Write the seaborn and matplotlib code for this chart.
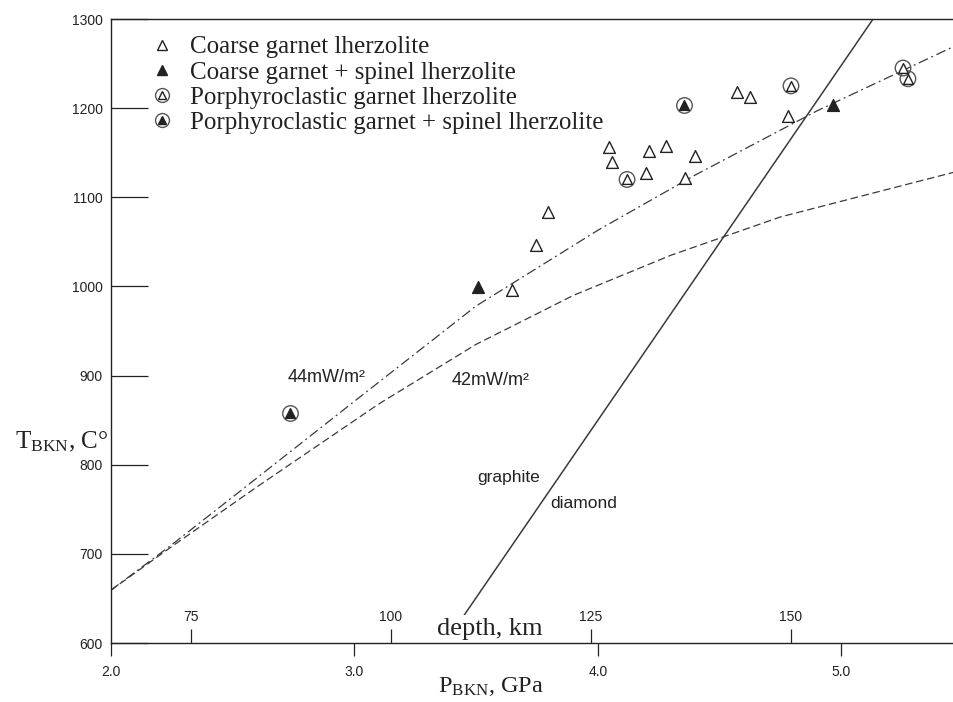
import numpy as np
import pandas as pd
import matplotlib
matplotlib.use("Agg")
import matplotlib.pyplot as plt
import seaborn as sns
from matplotlib.lines import Line2D
from matplotlib.legend_handler import HandlerTuple

# ---------------- data ----------------
cg_P = [4.046, 4.059, 4.210, 4.280, 4.399, 4.198, 4.358, 3.796, 3.746, 3.648, 4.571, 4.625, 4.781]
cg_T = [1156, 1140, 1152, 1158, 1146, 1127, 1122, 1083, 1046, 996, 1218, 1213, 1191]
cgs_P = [3.508, 4.965]
cgs_T = [999, 1203]
pg_P = [4.120, 4.793, 5.253, 5.273]
pg_T = [1120, 1225, 1245, 1233]
pgs_P = [2.736, 4.354]
pgs_T = [858, 1204]

geo44_P = [2.0, 2.25, 2.6, 3.0, 3.5, 4.0, 4.4, 4.9, 5.46]
geo44_T = [659, 710, 785, 871, 978, 1063, 1125, 1197, 1269]
geo42_P = [2.0, 2.25, 2.6, 3.1, 3.5, 3.9, 4.3, 4.75, 5.46]
geo42_T = [659, 708, 775, 868, 935, 990, 1035, 1078, 1128]
gd_P = [3.373, 5.13]
gd_T = [600, 1300]

x_ticks = [2.0, 3.0, 4.0, 5.0]
x_tick_labels = ["2.0", "3.0", "4.0", "5.0"]
y_ticks = [600, 700, 800, 900, 1000, 1100, 1200, 1300]
depth_ticks = [75, 100, 125, 150]
depth_tick_P = [2.332, 3.149, 3.971, 4.792]

labels = ["Coarse garnet lherzolite",
          "Coarse garnet + spinel lherzolite",
          "Porphyroclastic garnet lherzolite",
          "Porphyroclastic garnet + spinel lherzolite"]

# ---------------- style ----------------
sns.set_theme(style="white")
plt.rcParams["font.family"] = ["Liberation Sans", "DejaVu Sans"]
plt.rcParams["mathtext.fontset"] = "custom"
plt.rcParams["mathtext.rm"] = "Liberation Serif"
plt.rcParams["mathtext.it"] = "Liberation Serif:italic"
SERIF = ["Liberation Serif", "DejaVu Serif"]
INK = "#222222"
LINE = "#3a3a3a"

fig = plt.figure(figsize=(9.54, 7.02), dpi=100)
ax = fig.add_axes([0.1159, 0.0840, 0.8841, 0.8889])
ax.set_xlim(2.0, 5.4622)
ax.set_ylim(600, 1300)

# geotherms and graphite-diamond line
d44 = pd.DataFrame({"P": geo44_P, "T": geo44_T})
d42 = pd.DataFrame({"P": geo42_P, "T": geo42_T})
dgd = pd.DataFrame({"P": gd_P, "T": gd_T})
sns.lineplot(data=d44, x="P", y="T", sort=False, ax=ax, color=LINE, lw=0.9, zorder=2)
ax.lines[-1].set_dashes([8, 3, 1.5, 3])
sns.lineplot(data=d42, x="P", y="T", sort=False, ax=ax, color=LINE, lw=0.9, zorder=2)
ax.lines[-1].set_dashes([6, 3])
sns.lineplot(data=dgd, x="P", y="T", sort=False, ax=ax, color=LINE, lw=1.1, zorder=2)

# markers
sns.scatterplot(x=cg_P, y=cg_T, marker="^", s=72, color="white",
                edgecolor=INK, linewidth=1.0, ax=ax, zorder=4)
sns.scatterplot(x=cgs_P, y=cgs_T, marker="^", s=72, color=INK,
                edgecolor=INK, linewidth=1.0, ax=ax, zorder=4)
sns.scatterplot(x=pg_P, y=pg_T, marker="o", s=125, facecolors="none",
                edgecolor="#555555", linewidth=1.0, ax=ax, zorder=4)
sns.scatterplot(x=pg_P, y=pg_T, marker="^", s=50, color="white",
                edgecolor=INK, linewidth=1.0, ax=ax, zorder=5)
sns.scatterplot(x=pgs_P, y=pgs_T, marker="o", s=125, color="white",
                edgecolor="#555555", linewidth=1.0, ax=ax, zorder=4)
sns.scatterplot(x=pgs_P, y=pgs_T, marker="^", s=50, color=INK,
                edgecolor=INK, linewidth=1.0, ax=ax, zorder=5)

# annotations
ax.text(2.885, 898, "44mW/m²", fontsize=13, ha="center", va="center", color=INK)
ax.text(3.562, 894, "42mW/m²", fontsize=13, ha="center", va="center", color=INK)
ax.text(3.632, 786, "graphite", fontsize=12.5, ha="center", va="center", color=INK)
ax.text(3.944, 756, "diamond", fontsize=12.5, ha="center", va="center", color=INK)
ax.text(3.555, 616, "depth, km", fontsize=19, family=SERIF, ha="center",
        va="center", color=INK, zorder=2.4,
        bbox=dict(facecolor="white", edgecolor="none", pad=2))

# axes styling
for s in ["left", "bottom", "top"]:
    ax.spines[s].set_visible(True)
    ax.spines[s].set_color(INK)
    ax.spines[s].set_linewidth(1.0)
    ax.spines[s].set_zorder(3)
ax.spines["right"].set_visible(False)

ax.set_yticks(y_ticks)
ax.set_yticklabels([str(v) for v in y_ticks])
ax.tick_params(axis="y", direction="in", length=26.5, width=0.9, colors=INK,
               labelsize=10, pad=5.5, left=True)
ax.set_xticks(x_ticks)
ax.set_xticklabels(x_tick_labels)
ax.tick_params(axis="x", direction="out", length=9, width=0.9, colors=INK,
               labelsize=10, pad=7, bottom=True)

# depth scale (secondary axis)
a, b = np.polyfit(depth_ticks, depth_tick_P, 1)
secax = ax.secondary_xaxis("bottom", functions=(lambda p: (p - b) / a,
                                                 lambda d: a * d + b))
secax.set_xticks(depth_ticks)
secax.set_xticklabels([str(d) for d in depth_ticks])
secax.tick_params(direction="in", length=10, width=0.9, colors=INK,
                  labelsize=10, pad=-24)
secax.spines["bottom"].set_visible(False)

# axis labels
ax.set_ylabel(r"T$_{\mathrm{BKN}}$, C°", rotation=0, fontsize=18,
              family=SERIF, color=INK, ha="center", va="center")
ax.yaxis.set_label_coords(-0.058, 0.322)
ax.set_xlabel(r"P$_{\mathrm{BKN}}$, GPa", fontsize=17.5, family=SERIF,
              color=INK, ha="center", va="center")
ax.xaxis.set_label_coords(0.451, -0.069)

# legend
h1 = Line2D([], [], ls="none", marker="^", ms=7.5, mfc="white", mec=INK, mew=1.0)
h2 = Line2D([], [], ls="none", marker="^", ms=7.5, mfc=INK, mec=INK, mew=1.0)
hc = Line2D([], [], ls="none", marker="o", ms=10, mfc="white", mec="#555555", mew=1.0)
h3 = Line2D([], [], ls="none", marker="^", ms=6, mfc="white", mec=INK, mew=1.0)
h4 = Line2D([], [], ls="none", marker="^", ms=6, mfc=INK, mec=INK, mew=1.0)
leg = ax.legend([h1, h2, (hc, h3), (hc, h4)], labels,
                handler_map={tuple: HandlerTuple(ndivide=1)},
                loc="upper left", bbox_to_anchor=(0.049, 0.973),
                frameon=False, borderaxespad=0, borderpad=0,
                handlelength=0.8, handletextpad=0.72, labelspacing=0.11,
                prop={"family": SERIF, "size": 18})
for t in leg.get_texts():
    t.set_color(INK)

fig.savefig("out.png", dpi=100)
